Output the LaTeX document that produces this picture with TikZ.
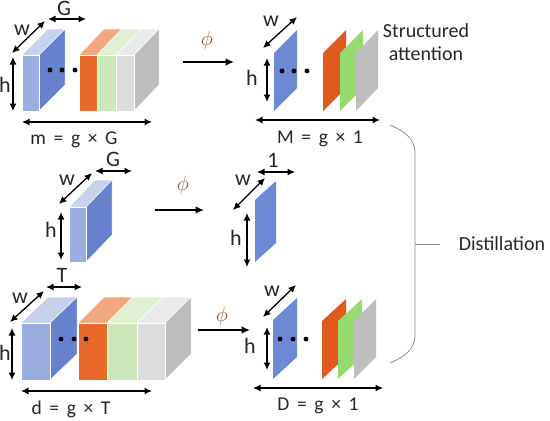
\documentclass[tikz,border=0pt]{standalone}
\usepackage{fontspec}
\setmainfont{Carlito}
\usetikzlibrary{arrows.meta}
\definecolor{bluefront}{HTML}{9AAEE0}
\definecolor{blueside}{HTML}{6682CE}
\definecolor{bluetop}{HTML}{C6D1EE}
\definecolor{orfront}{HTML}{E8692A}
\definecolor{ortop}{HTML}{F2A77C}
\definecolor{grfront}{HTML}{CDE8B8}
\definecolor{grtop}{HTML}{E0F0D2}
\definecolor{gyfront}{HTML}{DCDCDC}
\definecolor{gyside}{HTML}{BDBDBD}
\definecolor{gytop}{HTML}{EAEAEA}
\definecolor{plblue}{HTML}{6C89D4}
\definecolor{plorange}{HTML}{E05A1E}
\definecolor{plgreen}{HTML}{96DB70}
\definecolor{plgray}{HTML}{BEBEBE}
\definecolor{phicol}{HTML}{8C5A2E}
\definecolor{bracecol}{HTML}{8A8A8A}
\newcommand\myslab[9]{%
 \fill[#8,draw=white,line width=0.5pt] (#1,#2) -- (#3,#2) -- ({#3+#5},{#2+#6}) -- ({#1+#5},{#2+#6}) -- cycle;
 \fill[#9,draw=white,line width=0.5pt] (#3,#2) -- ({#3+#5},{#2+#6}) -- ({#3+#5},{#4+#6}) -- (#3,#4) -- cycle;
 \fill[#7,draw=white,line width=0.5pt] (#1,#2) rectangle (#3,#4);
}
\newcommand\myplane[6]{%
 \fill[#6] (#1,#3) -- (#1,#2) -- ({#1+#4},{#2-#5}) -- ({#1+#4},{#3-#5}) -- cycle;
}
\tikzset{
 dim/.style={line width=1.3pt, {Latex[length=7.5pt,width=7pt]}-{Latex[length=7.5pt,width=7pt]}},
 maparrow/.style={line width=1.3pt, -{Latex[length=8.5pt,width=7.5pt]}},
 lbl/.style={font=\fontsize{22}{24}\selectfont, inner sep=0pt, text=black!85},
 txt/.style={font=\fontsize{20}{24}\selectfont, inner sep=0pt, text=black!85},
 eqlbl/.style={font=\fontsize{19.5}{24}\selectfont, inner sep=0pt, text=black!85},
 phil/.style={text=phicol, font=\fontsize{20}{22}\selectfont, inner sep=0pt},
 bracestyle/.style={draw=bracecol, line width=0.8pt},
}
\begin{document}
\begin{tikzpicture}[x=1pt,y=-1pt]
\useasboundingbox (0,0) rectangle (550,421);
% ---------- top-left box ----------
\myslab{22}{55}{39}{111}{26}{-26}{bluefront}{bluetop}{blueside}
\myslab{79}{55}{97}{111}{25}{-26}{orfront}{ortop}{orfront}
\myslab{97}{55}{116}{111}{25}{-26}{grfront}{grtop}{grfront}
\myslab{116}{55}{134}{111}{25}{-26}{gyfront}{gytop}{gyside}
\foreach \x in {50,62,75} \fill (\x,70) circle (2.4pt);
\draw[dim] (12,53) coordinate (tlwa) -- (45,21) coordinate (tlwb);
\node[lbl] (tlw) at (22,30) {w};
\draw[dim] (48,19) coordinate (tlga) -- (86,19) coordinate (tlgb);
\node[lbl] (tlg) at (64,8) {G};
\draw[dim] (13,57) coordinate (tlha) -- (13,111) coordinate (tlhb);
\node[lbl] (tlh) at (5,85) {h};
\draw[dim] (22,122) coordinate (tlba) -- (152,122) coordinate (tlbb);
\node[eqlbl] (tleq) at (74,140) {m\,\ =\,\ g\,\ ×\,\ G};
% phi arrow
\node[phil] (phi1) at (207,40) {$\phi$};
\draw[maparrow] (183,62) coordinate (pa1) -- (234,62) coordinate (pb1);
% ---------- top-right planes ----------
\myplane{274}{53}{111}{23}{23}{plblue}
\myplane{323}{53}{111}{23}{23}{plorange}
\myplane{340}{53}{111}{23}{23}{plgreen}
\myplane{356}{53}{111}{22}{23}{plgray}
\foreach \x in {282,294,307} \fill (\x,71) circle (2.4pt);
\draw[dim] (263,48) coordinate (trwa) -- (297,17) coordinate (trwb);
\node[lbl] (trw) at (271,21) {w};
\draw[dim] (267,58) coordinate (trha) -- (267,102) coordinate (trhb);
\node[lbl] (trh) at (252,78) {h};
\draw[dim] (255,120) coordinate (trba) -- (380,120) coordinate (trbb);
\node[eqlbl] (treq) at (320,139) {M\,\ =\,\ g\,\ ×\,\ 1};
\node[txt, align=center] (struct) at (426,42) {Structured\\[-1pt]attention};
% ---------- middle row ----------
\myslab{69}{207}{86}{262}{26}{-27}{bluefront}{bluetop}{blueside}
\draw[dim] (59,204) coordinate (mlwa) -- (92,173) coordinate (mlwb);
\node[lbl] (mlw) at (67,180) {w};
\draw[dim] (95,171) coordinate (mlga) -- (132,171) coordinate (mlgb);
\node[lbl] (mlg) at (113,159) {G};
\draw[dim] (61,212) coordinate (mlha) -- (61,260) coordinate (mlhb);
\node[lbl] (mlh) at (51,230) {h};
\node[phil] (phi2) at (183,185) {$\phi$};
\draw[maparrow] (155,210) coordinate (pa2) -- (204,210) coordinate (pb2);
\myplane{255}{200}{262}{21}{19}{plblue}
\draw[dim] (233,210) coordinate (mrwa) -- (265,178) coordinate (mrwb);
\node[lbl] (mrw) at (243,180) {w};
\draw[dim] (257,172) coordinate (mr1a) -- (295,172) coordinate (mr1b);
\node[lbl] (mr1) at (273,160) {1};
\draw[dim] (247,213) coordinate (mrha) -- (247,267) coordinate (mrhb);
\node[lbl] (mrh) at (236,238) {h};
% ---------- bottom-left box ----------
\myslab{21}{323}{50}{380}{27}{-26}{bluefront}{bluetop}{blueside}
\myslab{78}{323}{107}{380}{26}{-26}{orfront}{ortop}{orfront}
\myslab{107}{323}{137}{380}{26}{-26}{grfront}{grtop}{grfront}
\myslab{137}{323}{165}{380}{26}{-26}{gyfront}{gytop}{gyside}
\foreach \x in {61,74,86} \fill (\x,339) circle (2.4pt);
\draw[dim] (10,322) coordinate (blwa) -- (44,291) coordinate (blwb);
\node[lbl] (blw) at (20,298) {w};
\draw[dim] (46,287) coordinate (blta) -- (82,287) coordinate (bltb);
\node[lbl] (blt) at (62,275) {T};
\draw[dim] (12,328) coordinate (blha) -- (12,380) coordinate (blhb);
\node[lbl] (blh) at (5,353) {h};
\draw[dim] (21,391) coordinate (blba) -- (152,391) coordinate (blbb);
\node[eqlbl] (bleq) at (71,409) {d\,\ =\,\ g\,\ ×\,\ T};
\node[phil] (phi3) at (222,316) {$\phi$};
\draw[maparrow] (198,330) coordinate (pa3) -- (250,330) coordinate (pb3);
% ---------- bottom-right planes ----------
\myplane{273}{320}{379}{24}{22}{plblue}
\myplane{322}{321}{379}{24}{22}{plorange}
\myplane{338}{321}{379}{24}{22}{plgreen}
\myplane{354}{321}{379}{22}{22}{plgray}
\foreach \x in {280,293,306} \fill (\x,339) circle (2.4pt);
\draw[dim] (263,317) coordinate (brwa) -- (296,285) coordinate (brwb);
\node[lbl] (brw) at (272,291) {w};
\draw[dim] (267,327) coordinate (brha) -- (267,370) coordinate (brhb);
\node[lbl] (brh) at (250,346) {h};
\draw[dim] (253,388) coordinate (brba) -- (383,388) coordinate (brbb);
\node[eqlbl] (breq) at (318,406) {D\,\ =\,\ g\,\ ×\,\ 1};
% ---------- brace ----------
\coordinate (bt) at (390,125);
\coordinate (bb) at (390,363);
\coordinate (bm) at (415,244);
\draw[bracestyle] (bt) .. controls (405,131) and (415,140) .. (415,152) -- (415,336) .. controls (415,348) and (405,357) .. (bb);
\node[txt] (dist) at (502,244) {Distillation};
\draw[bracestyle] (bm) -- (dist.west -| 440,0);
\end{tikzpicture}
\end{document}
